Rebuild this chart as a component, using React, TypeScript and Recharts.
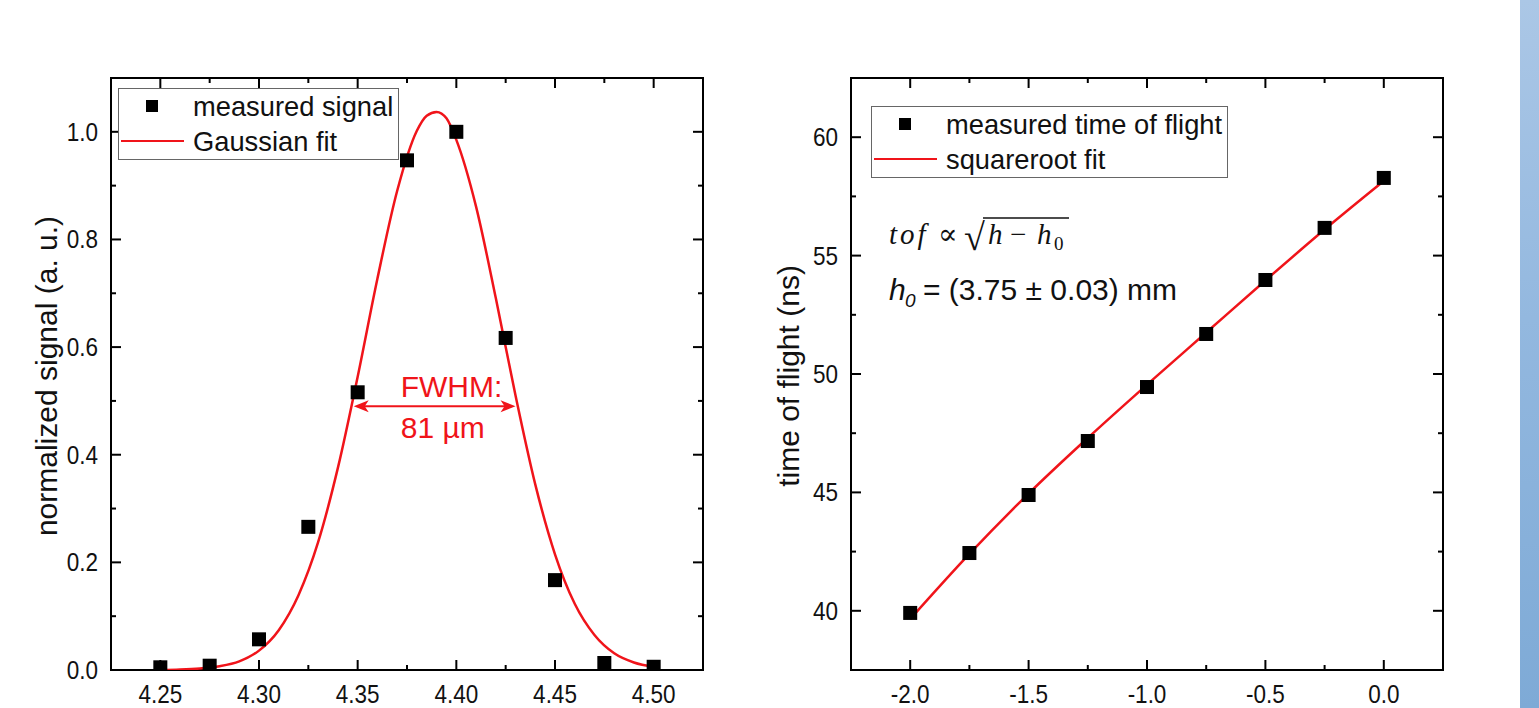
import React from 'react';
import { ComposedChart, Scatter, Line, XAxis, YAxis, ReferenceArea, ReferenceLine, Legend } from 'recharts';

const FONT = '"Liberation Sans", Arial, sans-serif';
const RED = '#f0141a';

// left panel: focus scan
const scanPos = [4.25, 4.275, 4.3, 4.325, 4.35, 4.375, 4.4, 4.425, 4.45, 4.475, 4.5];
const scanSignal = [0.005, 0.008, 0.057, 0.266, 0.516, 0.947, 1.0, 0.617, 0.167, 0.013, 0.006];
const gaussPos = [4.25, 4.26, 4.27, 4.28, 4.29, 4.3, 4.31, 4.32, 4.33, 4.34, 4.35, 4.36, 4.37, 4.38, 4.385, 4.39, 4.395, 4.4, 4.41, 4.42, 4.43, 4.44, 4.45, 4.46, 4.47, 4.48, 4.49, 4.5];
const gaussSignal = [0.0, 0.001, 0.003, 0.007, 0.016, 0.036, 0.074, 0.139, 0.238, 0.376, 0.545, 0.727, 0.89, 1.002, 1.03, 1.037, 1.025, 0.985, 0.861, 0.691, 0.51, 0.345, 0.215, 0.123, 0.065, 0.031, 0.014, 0.006];
const scanXLabels = [4.25, 4.3, 4.35, 4.4, 4.45, 4.5];
const scanXMinor = [4.275, 4.325, 4.375, 4.425, 4.475];
const scanYLabels = [0, 0.2, 0.4, 0.6, 0.8, 1.0];
const scanYMinor = [0.1, 0.3, 0.5, 0.7, 0.9];
const fwhm = { from: 4.348, to: 4.43, level: 0.49 };

// right panel: time of flight vs height
const heightPos = [-2.0, -1.75, -1.5, -1.25, -1.0, -0.75, -0.5, -0.25, 0.0];
const tofMeasured = [39.91, 42.44, 44.89, 47.17, 49.45, 51.69, 53.97, 56.17, 58.28];
const tofFit = [39.65, 42.4, 44.95, 47.3, 49.55, 51.75, 53.95, 56.1, 58.15];
const tofXLabels = [-2.0, -1.5, -1.0, -0.5, 0.0];
const tofXMinor = [-1.75, -1.25, -0.75, -0.25];
const tofYLabels = [40, 45, 50, 55, 60];
const tofYMinor = [42.5, 47.5, 52.5, 57.5];

const scanData = scanPos.map((x, i) => ({ x, y: scanSignal[i] }));
const gaussData = gaussPos.map((x, i) => ({ x, y: gaussSignal[i] }));
const tofData = heightPos.map((x, i) => ({ x, y: tofMeasured[i] }));
const tofFitData = heightPos.map((x, i) => ({ x, y: tofFit[i] }));

const W = 760;
const H = 708;
const TOP = 78;
const BOTTOM = 670;

const isIn = (list: number[], v: number) => list.some((l) => Math.abs(l - v) < 1e-6);

// tick labels in the original look a little narrow, so squeeze them sideways
const TickText = ({ x, y, anchor, children }: any) => (
  <text
    transform={`translate(${x} ${y}) scale(0.9 1)`}
    textAnchor={anchor}
    fontFamily={FONT}
    fontSize={25}
    fill="#111"
  >
    {children}
  </text>
);

const makeXTick = (labels: number[], fmt: (v: number) => string) => (props: any) => {
  const { x, payload } = props;
  const major = isIn(labels, payload.value);
  const len = major ? 10 : 5;
  return (
    <g>
      <line x1={x} x2={x} y1={BOTTOM} y2={BOTTOM - len} stroke="#000" strokeWidth={2} />
      <line x1={x} x2={x} y1={TOP} y2={TOP + len} stroke="#000" strokeWidth={2} />
      {major && (
        <TickText x={x} y={BOTTOM + 33} anchor="middle">
          {fmt(payload.value)}
        </TickText>
      )}
    </g>
  );
};

const makeYTick = (left: number, right: number, labels: number[], fmt: (v: number) => string) => (props: any) => {
  const { y, payload } = props;
  const major = isIn(labels, payload.value);
  const len = major ? 10 : 5;
  return (
    <g>
      <line x1={left} x2={left + len} y1={y} y2={y} stroke="#000" strokeWidth={2} />
      <line x1={right} x2={right - len} y1={y} y2={y} stroke="#000" strokeWidth={2} />
      {major && (
        <TickText x={left - 13} y={y + 9} anchor="end">
          {fmt(payload.value)}
        </TickText>
      )}
    </g>
  );
};

const axisTitle = (cx: number, text: string) => () => (
  <text
    x={cx}
    y={376}
    transform={`rotate(-90 ${cx} 376)`}
    textAnchor="middle"
    dominantBaseline="central"
    fontFamily={FONT}
    fontSize={30}
    fill="#111"
  >
    {text}
  </text>
);

const FramedLegend = ({ payload, boxWidth }: any) => {
  const items = [...(payload || [])].sort((a: any, b: any) => (a.type === 'square' ? -1 : b.type === 'square' ? 1 : 0));
  return (
    <svg width={boxWidth} height={72} style={{ display: 'block' }}>
      <rect x={0.5} y={0.5} width={boxWidth - 1} height={71} fill="#fff" stroke="#666" />
      {items.map((p: any, i: number) => {
        const cy = i === 0 ? 18 : 53;
        return (
          <g key={p.value}>
            {p.type === 'square' ? (
              <rect x={28} y={cy - 6} width={12} height={12} fill="#000" />
            ) : (
              <line x1={3} x2={66} y1={cy} y2={cy} stroke={RED} strokeWidth={2} />
            )}
            <text x={75} y={cy + 10} fontFamily={FONT} fontSize={27.3} fill="#111">
              {p.value}
            </text>
          </g>
        );
      })}
    </svg>
  );
};

const square = (props: any) => {
  const { cx, cy } = props;
  return <rect x={cx - 7} y={cy - 7} width={14} height={14} fill="#000" />;
};

const FwhmArrow = (props: any) => {
  const { x1, y1, x2 } = props;
  const head = (tip: number, dir: number) =>
    `${tip},${y1} ${tip + dir * 15},${y1 - 6} ${tip + dir * 11},${y1} ${tip + dir * 15},${y1 + 6}`;
  return (
    <g>
      <line x1={x1 + 4} x2={x2 - 4} y1={y1} y2={y1} stroke={RED} strokeWidth={2} />
      <polygon points={head(x1, 1)} fill={RED} />
      <polygon points={head(x2, -1)} fill={RED} />
      <text x={x1 + 47} y={y1 - 9} fontFamily={FONT} fontSize={30} fill={RED}>
        FWHM:
      </text>
      <text x={x1 + 47} y={y1 + 32} fontFamily={FONT} fontSize={30} fill={RED}>
        81 µm
      </text>
    </g>
  );
};

const ScanChart = () => {
  const left = 111;
  const right = 703;
  return (
    <ComposedChart width={W} height={H} margin={{ top: TOP, right: W - right, bottom: 0, left: 0 }}>
      <XAxis
        type="number"
        dataKey="x"
        domain={[4.225, 4.525]}
        allowDataOverflow
        ticks={[...scanXLabels, ...scanXMinor].sort((a, b) => a - b)}
        interval={0}
        height={H - BOTTOM}
        tickLine={false}
        axisLine={false}
        tick={makeXTick(scanXLabels, (v) => v.toFixed(2))}
      />
      <YAxis
        type="number"
        domain={[0, 1.1]}
        allowDataOverflow
        ticks={[...scanYLabels, ...scanYMinor].sort((a, b) => a - b)}
        interval={0}
        width={left}
        tickLine={false}
        axisLine={false}
        tick={makeYTick(left, right, scanYLabels, (v) => v.toFixed(1))}
        label={{ content: axisTitle(46, 'normalized signal (a. u.)') }}
      />
      <ReferenceArea x1={4.225} x2={4.525} y1={0} y2={1.1} fill="none" stroke="#000" strokeWidth={2} ifOverflow="visible" />
      <Line
        data={gaussData}
        dataKey="y"
        name="Gaussian fit"
        type="monotone"
        stroke={RED}
        strokeWidth={2.5}
        dot={false}
        legendType="line"
        isAnimationActive={false}
      />
      <Scatter data={scanData} dataKey="y" name="measured signal" shape={square} legendType="square" isAnimationActive={false} />
      <ReferenceLine
        segment={[
          { x: fwhm.from, y: fwhm.level },
          { x: fwhm.to, y: fwhm.level },
        ]}
        shape={FwhmArrow}
      />
      <Legend
        layout="vertical"
        align="center"
        verticalAlign="middle"
        wrapperStyle={{ left: 118, top: 88, width: 281, height: 72 }}
        content={(p: any) => <FramedLegend {...p} boxWidth={281} />}
      />
    </ComposedChart>
  );
};

const TofChart = () => {
  const left = 91;
  const right = 683;
  return (
    <ComposedChart width={W} height={H} margin={{ top: TOP, right: W - right, bottom: 0, left: 0 }}>
      <XAxis
        type="number"
        dataKey="x"
        domain={[-2.25, 0.25]}
        allowDataOverflow
        ticks={[...tofXLabels, ...tofXMinor].sort((a, b) => a - b)}
        interval={0}
        height={H - BOTTOM}
        tickLine={false}
        axisLine={false}
        tick={makeXTick(tofXLabels, (v) => v.toFixed(1).replace('-0.0', '0.0'))}
      />
      <YAxis
        type="number"
        domain={[37.5, 62.5]}
        allowDataOverflow
        ticks={[...tofYLabels, ...tofYMinor].sort((a, b) => a - b)}
        interval={0}
        width={left}
        tickLine={false}
        axisLine={false}
        tick={makeYTick(left, right, tofYLabels, (v) => String(v))}
        label={{ content: axisTitle(28, 'time of flight (ns)') }}
      />
      <ReferenceArea x1={-2.25} x2={0.25} y1={37.5} y2={62.5} fill="none" stroke="#000" strokeWidth={2} ifOverflow="visible" />
      <Line
        data={tofFitData}
        dataKey="y"
        name="squareroot fit"
        type="monotone"
        stroke={RED}
        strokeWidth={2.5}
        dot={false}
        legendType="line"
        isAnimationActive={false}
      />
      <Scatter data={tofData} dataKey="y" name="measured time of flight" shape={square} legendType="square" isAnimationActive={false} />
      <Legend
        layout="vertical"
        align="center"
        verticalAlign="middle"
        wrapperStyle={{ left: 111, top: 106, width: 357, height: 72 }}
        content={(p: any) => <FramedLegend {...p} boxWidth={357} />}
      />
    </ComposedChart>
  );
};

export default function App() {
  return (
    <div style={{ position: 'absolute', left: 0, top: 0, width: 1539, height: 708, overflow: 'hidden', background: '#fff' }}>
      <div style={{ position: 'absolute', left: 0, top: 0 }}>
        <ScanChart />
      </div>
      <div style={{ position: 'absolute', left: 760, top: 0 }}>
        <TofChart />
      </div>
      {/* fit formula and result, right panel */}
      <svg width={1539} height={708} style={{ position: 'absolute', left: 0, top: 0, pointerEvents: 'none' }}>
        <g fontFamily='"Liberation Serif", "DejaVu Serif", serif' fontSize={29} fill="#111">
          <text x={889} y={244} fontStyle="italic" letterSpacing={3}>tof</text>
          <text x={938} y={244}>∝</text>
          <text x={964} y={250} fontSize={38}>√</text>
          <line x1={983} x2={1069} y1={218} y2={218} stroke="#111" strokeWidth={1.6} />
          <text x={988} y={244} fontStyle="italic">h</text>
          <text x={1010} y={244}>−</text>
          <text x={1037} y={244} fontStyle="italic">h</text>
          <text x={1054} y={250} fontSize={19}>0</text>
        </g>
        <g fontFamily={FONT} fill="#111">
          <text x={889} y={300} fontSize={30} fontStyle="italic">h</text>
          <text x={905} y={307} fontSize={19} fontStyle="italic">0</text>
          <text x={923} y={300} fontSize={30}>= (3.75 ± 0.03) mm</text>
        </g>
      </svg>
      <div
        style={{
          position: 'absolute',
          left: 1520,
          top: 0,
          width: 19,
          height: 708,
          background: 'linear-gradient(180deg, #abc7e6 0%, #93b8df 45%, #7eaad6 100%)',
        }}
      />
    </div>
  );
}
